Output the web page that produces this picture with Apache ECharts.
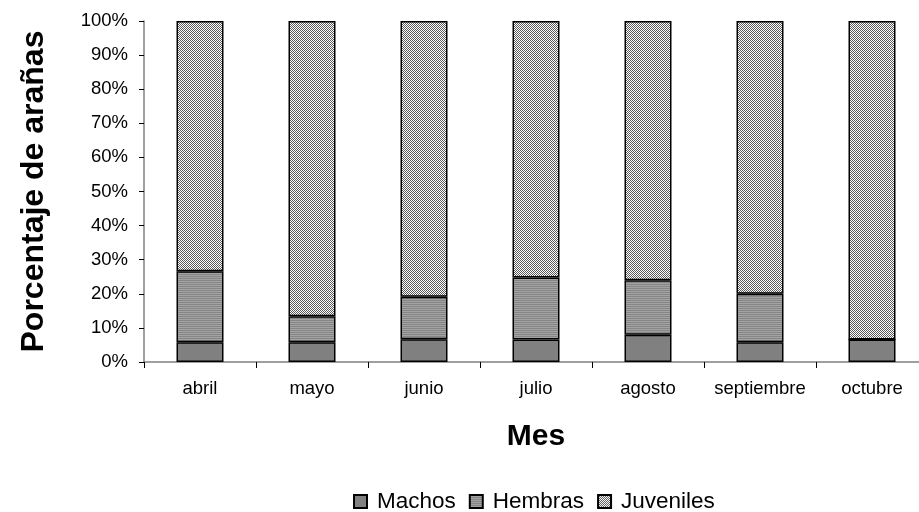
<!DOCTYPE html>
<html><head><meta charset="utf-8">
<script src="https://cdn.jsdelivr.net/npm/echarts@6/dist/echarts.min.js"></script>
<style>html,body{margin:0;padding:0;background:#fff;overflow:hidden}#c{width:932px;height:512px}</style>
</head><body><div id="c"></div>
<script>
const categories = ['abril','mayo','junio','julio','agosto','septiembre','octubre'];
const machos = [5.8, 5.8, 6.7, 6.6, 8.0, 5.8, 6.6];
const hembras = [20.8, 7.6, 12.4, 18.2, 16.0, 14.2, 0];
const juveniles = [73.4, 86.6, 80.9, 75.2, 76.0, 80.0, 93.4];
const yTicks = [0,10,20,30,40,50,60,70,80,90,100];

function pattern(w, h, fn){
  const c = document.createElement('canvas'); c.width=w; c.height=h;
  const ctx = c.getContext('2d'); fn(ctx); return c;
}
const checker = pattern(2,2,ctx=>{ctx.fillStyle='#ffffff';ctx.fillRect(0,0,2,2);ctx.fillStyle='#5a5a5a';ctx.fillRect(0,0,1,1);ctx.fillRect(1,1,1,1);});
const stripes = pattern(2,2,ctx=>{ctx.fillStyle='#a2a2a2';ctx.fillRect(0,0,2,2);ctx.fillStyle='#868686';ctx.fillRect(0,0,2,1);});

const font = '"Liberation Sans", Arial, sans-serif';
const chart = echarts.init(document.getElementById('c'), null, {renderer:'canvas'});
const barW = 47;
const base = {type:'bar', stack:'s', barWidth:barW};
chart.setOption({
  animation:false,
  backgroundColor:'#fff',
  grid:{left:144, width:784, top:21, height:341},
  xAxis:{type:'category', data:categories,
    name:'Mes', nameLocation:'middle', nameGap:60,
    nameTextStyle:{fontFamily:font, fontSize:30, fontWeight:'bold', color:'#000'},
    axisLine:{lineStyle:{color:'#808080', width:1.5}},
    axisTick:{show:true, length:6, lineStyle:{color:'#000'}},
    axisLabel:{fontFamily:font, fontSize:18.5, color:'#000', margin:17, interval:0}},
  yAxis:{type:'value', min:0, max:100, interval:10,
    name:'Porcentaje de arañas', nameLocation:'middle', nameGap:94, nameRotate:90,
    nameTextStyle:{fontFamily:font, fontSize:32, fontWeight:'bold', color:'#000'},
    splitLine:{show:false},
    axisLine:{show:true, lineStyle:{color:'#808080', width:1.5}},
    axisTick:{show:true, length:5, lineStyle:{color:'#000'}},
    axisLabel:{fontFamily:font, fontSize:18.5, color:'#000', margin:16, formatter:v=>yTicks.includes(v)?v+'%':''}},
  legend:{top:490, left:353, padding:0, itemWidth:13, itemHeight:13, itemGap:13,
    icon:'rect',
    textStyle:{fontFamily:font, fontSize:22.5, color:'#000', padding:[0,0,0,5]},
    data:['Machos','Hembras','Juveniles']},
  series:[
    Object.assign({}, base, {name:'Machos', data:machos, itemStyle:{color:'#808080', borderColor:'#000', borderWidth:1.5}}),
    Object.assign({}, base, {name:'Hembras', data:hembras, itemStyle:{color:{image:stripes, repeat:'repeat'}, borderColor:'#000', borderWidth:1.5}}),
    Object.assign({}, base, {name:'Juveniles', data:juveniles, itemStyle:{color:{image:checker, repeat:'repeat'}, borderColor:'#000', borderWidth:1.5}})
  ]
});
</script></body></html>
